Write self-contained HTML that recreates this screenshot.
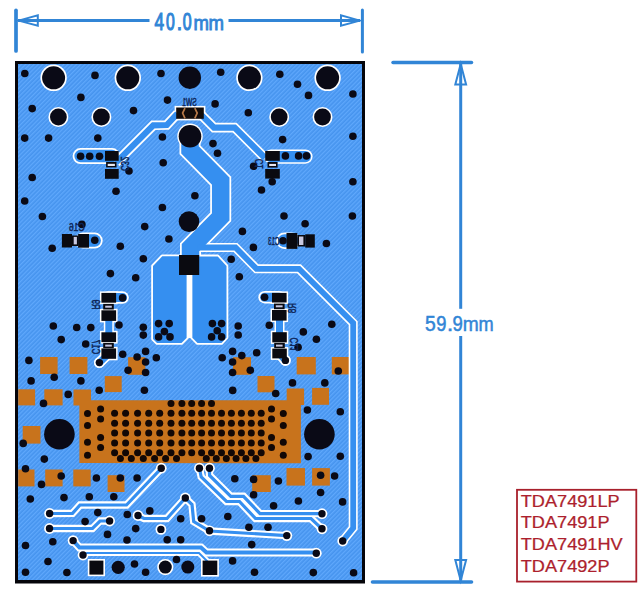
<!DOCTYPE html>
<html><head><meta charset="utf-8"><style>
html,body{margin:0;padding:0;background:#fff;width:640px;height:594px;overflow:hidden;position:relative;font-family:"Liberation Sans",sans-serif}
</style></head><body>
<svg width="640" height="594" viewBox="0 0 640 594" style="position:absolute;left:0;top:0;display:block">
<defs><pattern id="h" patternUnits="userSpaceOnUse" width="3" height="3" patternTransform="rotate(45)"><rect width="3" height="3" fill="#4694ee"/><rect width="1.3" height="3" fill="#5fa8fc"/></pattern></defs>
<g stroke="#3185d6" fill="none" stroke-linecap="round">
<line x1="16" y1="10.3" x2="16" y2="51" stroke-width="3.7"/>
<line x1="362.4" y1="10" x2="362.4" y2="52" stroke-width="3"/>
<line x1="18" y1="20.6" x2="149.5" y2="20.6" stroke-width="3" stroke-linecap="butt"/>
<line x1="228.5" y1="20.6" x2="360" y2="20.6" stroke-width="3" stroke-linecap="butt"/>
<path d="M18.5,20.6 L37.8,15.4 L37.8,25.8 Z" stroke-width="2" stroke-linejoin="miter"/>
<path d="M360,20.6 L341,15.4 L341,25.8 Z" stroke-width="2" stroke-linejoin="miter"/>
<line x1="393" y1="62.5" x2="471.5" y2="62.5" stroke-width="3.5"/>
<line x1="372.5" y1="582" x2="471.5" y2="582" stroke-width="3.6"/>
<line x1="460.7" y1="64" x2="460.7" y2="308.8" stroke-width="3" stroke-linecap="butt"/>
<line x1="460.7" y1="336" x2="460.7" y2="580.5" stroke-width="3" stroke-linecap="butt"/>
<path d="M460.7,64 L455.3,84.5 L466.1,84.5 Z" stroke-width="2"/>
<path d="M460.7,580.5 L455.3,560 L466.1,560 Z" stroke-width="2"/>
</g>
<text x="0" y="0" transform="translate(154.40,30.3) scale(0.732,1.0)" font-family="Liberation Sans" font-size="23.6" fill="#3185d6" stroke="#3185d6" stroke-width="1.09">4</text>
<text x="0" y="0" transform="translate(165.99,30.3) scale(0.665,1.0)" font-family="Liberation Sans" font-size="23.6" fill="#3185d6" stroke="#3185d6" stroke-width="1.20">0</text>
<text x="0" y="0" transform="translate(176.48,30.3) scale(0.890,1.0)" font-family="Liberation Sans" font-size="23.6" fill="#3185d6" stroke="#3185d6" stroke-width="0.90">&#46;</text>
<text x="0" y="0" transform="translate(182.78,30.3) scale(0.674,1.0)" font-family="Liberation Sans" font-size="23.6" fill="#3185d6" stroke="#3185d6" stroke-width="1.19">0</text>
<text x="0" y="0" transform="translate(193.57,30.3) scale(0.786,0.88)" font-family="Liberation Sans" font-size="23.6" fill="#3185d6" stroke="#3185d6" stroke-width="1.02">m</text>
<text x="0" y="0" transform="translate(208.57,30.3) scale(0.786,0.88)" font-family="Liberation Sans" font-size="23.6" fill="#3185d6" stroke="#3185d6" stroke-width="1.02">m</text>
<text x="0" y="0" transform="translate(425.05,331.2) scale(0.854,1.0)" font-family="Liberation Sans" font-size="22.6" fill="#3185d6" stroke="#3185d6" stroke-width="0.53">5</text>
<text x="0" y="0" transform="translate(436.27,331.2) scale(0.809,1.0)" font-family="Liberation Sans" font-size="22.6" fill="#3185d6" stroke="#3185d6" stroke-width="0.56">9</text>
<text x="0" y="0" transform="translate(446.77,331.2) scale(1.046,1.0)" font-family="Liberation Sans" font-size="22.6" fill="#3185d6" stroke="#3185d6" stroke-width="0.43">&#46;</text>
<text x="0" y="0" transform="translate(452.46,331.2) scale(0.819,1.0)" font-family="Liberation Sans" font-size="22.6" fill="#3185d6" stroke="#3185d6" stroke-width="0.55">9</text>
<text x="0" y="0" transform="translate(462.65,331.2) scale(0.849,0.92)" font-family="Liberation Sans" font-size="22.6" fill="#3185d6" stroke="#3185d6" stroke-width="0.53">m</text>
<text x="0" y="0" transform="translate(478.42,331.2) scale(0.805,0.92)" font-family="Liberation Sans" font-size="22.6" fill="#3185d6" stroke="#3185d6" stroke-width="0.56">m</text>
<rect x="517" y="489.8" width="119.3" height="91.8" fill="none" stroke="#a8202c" stroke-width="1.8"/>
<text x="520.8" y="506.70" font-family="Liberation Sans" font-size="15.8" fill="#ad1f2d" stroke="#ad1f2d" stroke-width="0.25" transform="translate(520.8,0) scale(1.148,1) translate(-520.8,0)">TDA7491LP</text>
<text x="520.8" y="528.45" font-family="Liberation Sans" font-size="15.8" fill="#ad1f2d" stroke="#ad1f2d" stroke-width="0.25" transform="translate(520.8,0) scale(1.148,1) translate(-520.8,0)">TDA7491P</text>
<text x="520.8" y="550.20" font-family="Liberation Sans" font-size="15.8" fill="#ad1f2d" stroke="#ad1f2d" stroke-width="0.25" transform="translate(520.8,0) scale(1.148,1) translate(-520.8,0)">TDA7491HV</text>
<text x="520.8" y="571.95" font-family="Liberation Sans" font-size="15.8" fill="#ad1f2d" stroke="#ad1f2d" stroke-width="0.25" transform="translate(520.8,0) scale(1.148,1) translate(-520.8,0)">TDA7492P</text>
<rect x="15" y="61" width="350" height="522.5" fill="#05050a"/>
<rect x="18" y="64" width="344" height="516" fill="url(#h)"/>
<rect x="40.1" y="357" width="17.5" height="17.0" fill="#c8731c"/>
<rect x="69.6" y="357" width="17.8" height="17.0" fill="#c8731c"/>
<rect x="128.1" y="357.2" width="17.2" height="17.6" fill="#c8731c"/>
<rect x="104.8" y="376.1" width="16.9" height="16.0" fill="#c8731c"/>
<rect x="18.2" y="389.3" width="16.9" height="16.1" fill="#c8731c"/>
<rect x="44.3" y="389.3" width="18.3" height="16.1" fill="#c8731c"/>
<rect x="22.7" y="426" width="17.8" height="17.6" fill="#c8731c"/>
<rect x="233" y="357.2" width="18.0" height="17.6" fill="#c8731c"/>
<rect x="296.7" y="357" width="19.1" height="17.4" fill="#c8731c"/>
<rect x="331.8" y="357" width="17.7" height="17.4" fill="#c8731c"/>
<rect x="257.5" y="376" width="17.0" height="16.3" fill="#c8731c"/>
<rect x="312.1" y="387.9" width="16.9" height="16.9" fill="#c8731c"/>
<rect x="18.2" y="469.5" width="16.3" height="16.9" fill="#c8731c"/>
<rect x="45.2" y="469.5" width="17.4" height="16.9" fill="#c8731c"/>
<rect x="73.3" y="469.5" width="17.4" height="16.9" fill="#c8731c"/>
<rect x="107.6" y="475.2" width="16.9" height="16.8" fill="#c8731c"/>
<rect x="252.2" y="475.2" width="18.6" height="16.8" fill="#c8731c"/>
<rect x="286.5" y="468.1" width="18.5" height="17.5" fill="#c8731c"/>
<rect x="312.1" y="468.1" width="17.8" height="17.5" fill="#c8731c"/>
<path d="M73.5,389.5 L91,389.5 L91,400.2 L286.7,400.2 L286.7,388.4 L304.1,388.4 L304.1,405 L300.9,405 L300.9,463.2 L79.4,463.1 L79.4,405.4 L73.5,405.4 Z" fill="#c8731c"/>
<circle cx="114.6" cy="413.2" r="3.5" fill="#120806"/>
<circle cx="114.6" cy="423.2" r="3.5" fill="#120806"/>
<circle cx="114.6" cy="433.0" r="3.5" fill="#120806"/>
<circle cx="114.6" cy="442.9" r="3.5" fill="#120806"/>
<circle cx="114.6" cy="452.7" r="3.5" fill="#120806"/>
<circle cx="125.6" cy="413.2" r="3.5" fill="#120806"/>
<circle cx="125.6" cy="423.2" r="3.5" fill="#120806"/>
<circle cx="125.6" cy="433.0" r="3.5" fill="#120806"/>
<circle cx="125.6" cy="442.9" r="3.5" fill="#120806"/>
<circle cx="125.6" cy="452.7" r="3.5" fill="#120806"/>
<circle cx="137.6" cy="413.2" r="3.5" fill="#120806"/>
<circle cx="137.6" cy="423.2" r="3.5" fill="#120806"/>
<circle cx="137.6" cy="433.0" r="3.5" fill="#120806"/>
<circle cx="137.6" cy="442.9" r="3.5" fill="#120806"/>
<circle cx="137.6" cy="452.7" r="3.5" fill="#120806"/>
<circle cx="148.7" cy="413.2" r="3.5" fill="#120806"/>
<circle cx="148.7" cy="423.2" r="3.5" fill="#120806"/>
<circle cx="148.7" cy="433.0" r="3.5" fill="#120806"/>
<circle cx="148.7" cy="442.9" r="3.5" fill="#120806"/>
<circle cx="148.7" cy="452.7" r="3.5" fill="#120806"/>
<circle cx="159.7" cy="413.2" r="3.5" fill="#120806"/>
<circle cx="159.7" cy="423.2" r="3.5" fill="#120806"/>
<circle cx="159.7" cy="433.0" r="3.5" fill="#120806"/>
<circle cx="159.7" cy="442.9" r="3.5" fill="#120806"/>
<circle cx="159.7" cy="452.7" r="3.5" fill="#120806"/>
<circle cx="171" cy="413.2" r="3.5" fill="#120806"/>
<circle cx="171" cy="423.2" r="3.5" fill="#120806"/>
<circle cx="171" cy="433.0" r="3.5" fill="#120806"/>
<circle cx="171" cy="442.9" r="3.5" fill="#120806"/>
<circle cx="171" cy="452.7" r="3.5" fill="#120806"/>
<circle cx="181.9" cy="413.2" r="3.5" fill="#120806"/>
<circle cx="181.9" cy="423.2" r="3.5" fill="#120806"/>
<circle cx="181.9" cy="433.0" r="3.5" fill="#120806"/>
<circle cx="181.9" cy="442.9" r="3.5" fill="#120806"/>
<circle cx="181.9" cy="452.7" r="3.5" fill="#120806"/>
<circle cx="191.7" cy="413.2" r="3.5" fill="#120806"/>
<circle cx="191.7" cy="423.2" r="3.5" fill="#120806"/>
<circle cx="191.7" cy="433.0" r="3.5" fill="#120806"/>
<circle cx="191.7" cy="442.9" r="3.5" fill="#120806"/>
<circle cx="191.7" cy="452.7" r="3.5" fill="#120806"/>
<circle cx="201.6" cy="413.2" r="3.5" fill="#120806"/>
<circle cx="201.6" cy="423.2" r="3.5" fill="#120806"/>
<circle cx="201.6" cy="433.0" r="3.5" fill="#120806"/>
<circle cx="201.6" cy="442.9" r="3.5" fill="#120806"/>
<circle cx="201.6" cy="452.7" r="3.5" fill="#120806"/>
<circle cx="211.5" cy="413.2" r="3.5" fill="#120806"/>
<circle cx="211.5" cy="423.2" r="3.5" fill="#120806"/>
<circle cx="211.5" cy="433.0" r="3.5" fill="#120806"/>
<circle cx="211.5" cy="442.9" r="3.5" fill="#120806"/>
<circle cx="211.5" cy="452.7" r="3.5" fill="#120806"/>
<circle cx="221.5" cy="413.2" r="3.5" fill="#120806"/>
<circle cx="221.5" cy="423.2" r="3.5" fill="#120806"/>
<circle cx="221.5" cy="433.0" r="3.5" fill="#120806"/>
<circle cx="221.5" cy="442.9" r="3.5" fill="#120806"/>
<circle cx="221.5" cy="452.7" r="3.5" fill="#120806"/>
<circle cx="231.4" cy="413.2" r="3.5" fill="#120806"/>
<circle cx="231.4" cy="423.2" r="3.5" fill="#120806"/>
<circle cx="231.4" cy="433.0" r="3.5" fill="#120806"/>
<circle cx="231.4" cy="442.9" r="3.5" fill="#120806"/>
<circle cx="231.4" cy="452.7" r="3.5" fill="#120806"/>
<circle cx="241.4" cy="413.2" r="3.5" fill="#120806"/>
<circle cx="241.4" cy="423.2" r="3.5" fill="#120806"/>
<circle cx="241.4" cy="433.0" r="3.5" fill="#120806"/>
<circle cx="241.4" cy="442.9" r="3.5" fill="#120806"/>
<circle cx="241.4" cy="452.7" r="3.5" fill="#120806"/>
<circle cx="251.3" cy="413.2" r="3.5" fill="#120806"/>
<circle cx="251.3" cy="423.2" r="3.5" fill="#120806"/>
<circle cx="251.3" cy="433.0" r="3.5" fill="#120806"/>
<circle cx="251.3" cy="442.9" r="3.5" fill="#120806"/>
<circle cx="251.3" cy="452.7" r="3.5" fill="#120806"/>
<circle cx="261.2" cy="413.2" r="3.5" fill="#120806"/>
<circle cx="261.2" cy="423.2" r="3.5" fill="#120806"/>
<circle cx="261.2" cy="433.0" r="3.5" fill="#120806"/>
<circle cx="261.2" cy="442.9" r="3.5" fill="#120806"/>
<circle cx="261.2" cy="452.7" r="3.5" fill="#120806"/>
<circle cx="171" cy="403.4" r="3.5" fill="#120806"/>
<circle cx="181.9" cy="403.4" r="3.5" fill="#120806"/>
<circle cx="191.7" cy="403.4" r="3.5" fill="#120806"/>
<circle cx="201.6" cy="403.4" r="3.5" fill="#120806"/>
<circle cx="211.5" cy="403.4" r="3.5" fill="#120806"/>
<circle cx="120.4" cy="458.4" r="3.5" fill="#120806"/>
<circle cx="131.3" cy="458.4" r="3.5" fill="#120806"/>
<circle cx="143.3" cy="458.4" r="3.5" fill="#120806"/>
<circle cx="154.6" cy="458.4" r="3.5" fill="#120806"/>
<circle cx="165.6" cy="458.4" r="3.5" fill="#120806"/>
<circle cx="176.5" cy="458.4" r="3.5" fill="#120806"/>
<circle cx="206.3" cy="458.4" r="3.5" fill="#120806"/>
<circle cx="216.3" cy="458.4" r="3.5" fill="#120806"/>
<circle cx="226.3" cy="458.4" r="3.5" fill="#120806"/>
<circle cx="236.1" cy="458.4" r="3.5" fill="#120806"/>
<circle cx="245.9" cy="458.4" r="3.5" fill="#120806"/>
<circle cx="255.9" cy="458.4" r="3.5" fill="#120806"/>
<circle cx="87.5" cy="413.5" r="3.5" fill="#120806"/>
<circle cx="283.3" cy="413.5" r="3.5" fill="#120806"/>
<circle cx="87.5" cy="425.4" r="3.5" fill="#120806"/>
<circle cx="283.3" cy="425.4" r="3.5" fill="#120806"/>
<circle cx="87.5" cy="442.2" r="3.5" fill="#120806"/>
<circle cx="283.3" cy="442.2" r="3.5" fill="#120806"/>
<circle cx="87.5" cy="455.3" r="3.5" fill="#120806"/>
<circle cx="283.3" cy="455.3" r="3.5" fill="#120806"/>
<circle cx="100.6" cy="409.1" r="3.5" fill="#120806"/>
<circle cx="271.5" cy="409.1" r="3.5" fill="#120806"/>
<circle cx="100.6" cy="419" r="3.5" fill="#120806"/>
<circle cx="271.5" cy="419" r="3.5" fill="#120806"/>
<circle cx="100.6" cy="437.5" r="3.5" fill="#120806"/>
<circle cx="271.5" cy="437.5" r="3.5" fill="#120806"/>
<circle cx="100.6" cy="447.5" r="3.5" fill="#120806"/>
<circle cx="271.5" cy="447.5" r="3.5" fill="#120806"/>
<path d="M190,136 L190,150 L220.7,181 L220.7,217 L190.5,247.5 L190.5,262" fill="none" stroke="#ffffff" stroke-width="21" stroke-linejoin="miter" stroke-linecap="butt"/>
<path d="M116,162.6 L153.3,125.3 L166.8,125 L177.5,113.5" fill="none" stroke="#ffffff" stroke-width="9.6" stroke-linejoin="miter" stroke-linecap="butt"/>
<path d="M201,114.6 L214,127.6 L234.6,127.6 L265,158" fill="none" stroke="#ffffff" stroke-width="9.6" stroke-linejoin="miter" stroke-linecap="butt"/>
<path d="M80.6,156.1 L112,156.1" fill="none" stroke="#ffffff" stroke-width="16" stroke-linejoin="miter" stroke-linecap="round"/>
<path d="M271,156.6 L305.5,156.6" fill="none" stroke="#ffffff" stroke-width="14.2" stroke-linejoin="miter" stroke-linecap="round"/>
<path d="M83,240.6 L94.7,240.6" fill="none" stroke="#ffffff" stroke-width="16" stroke-linejoin="miter" stroke-linecap="round"/>
<path d="M284.5,240.7 L292,240.7" fill="none" stroke="#ffffff" stroke-width="16.6" stroke-linejoin="miter" stroke-linecap="round"/>
<path d="M108,297.6 L122.6,297.6" fill="none" stroke="#ffffff" stroke-width="12.5" stroke-linejoin="miter" stroke-linecap="round"/>
<path d="M264.6,297.2 L279,297.2" fill="none" stroke="#ffffff" stroke-width="12.5" stroke-linejoin="miter" stroke-linecap="round"/>
<path d="M108.8,318 L108.8,334" fill="none" stroke="#ffffff" stroke-width="10" stroke-linejoin="miter" stroke-linecap="butt"/>
<path d="M279.5,318 L279.5,334" fill="none" stroke="#ffffff" stroke-width="10" stroke-linejoin="miter" stroke-linecap="butt"/>
<path d="M108.5,354 L99.4,362.6" fill="none" stroke="#ffffff" stroke-width="10.5" stroke-linejoin="miter" stroke-linecap="round"/>
<path d="M279.5,354 L285.4,360.4" fill="none" stroke="#ffffff" stroke-width="10.5" stroke-linejoin="miter" stroke-linecap="round"/>
<path d="M153,266 L162.3,256.2 L187,256.2 L187,337.5 L181.5,343 L157,343 L153,339Z" fill="#ffffff" stroke="#ffffff" stroke-width="3.6" stroke-linejoin="round"/>
<path d="M192.1,256.4 L217.7,256.4 L226.5,266 L226.5,337.5 L221.5,343 L197.5,343 L192.1,337.5Z" fill="#ffffff" stroke="#ffffff" stroke-width="3.6" stroke-linejoin="round"/>
<path d="M200,247.5 L235.5,247.5 L256.5,268.8 L299,268.8 L353.2,323 L353.2,528 L342.7,541" fill="none" stroke="#ffffff" stroke-width="9.0" stroke-linejoin="miter" stroke-linecap="round"/>
<path d="M161.25,468.4 L126.5,505 L80,505 L72.5,513.3 L49.6,513.5" fill="none" stroke="#ffffff" stroke-width="7.4" stroke-linejoin="miter" stroke-linecap="round"/>
<path d="M49.5,528.5 L92.5,528.5 L100,521 L109.6,521" fill="none" stroke="#ffffff" stroke-width="7.4" stroke-linejoin="miter" stroke-linecap="round"/>
<path d="M138,515.5 L144,518.5 L167,518.5 L185.3,498 L192,504.5 L193.7,521.5 L209.6,531 L286.8,535.6" fill="none" stroke="#ffffff" stroke-width="7.4" stroke-linejoin="miter" stroke-linecap="round"/>
<path d="M73.1,540.6 L79.5,547.6 L201,547.6 L206.5,552.6 L316.3,552.6" fill="none" stroke="#ffffff" stroke-width="8" stroke-linejoin="miter" stroke-linecap="round"/>
<path d="M83,555 L87,553 L199,553 L209,563" fill="none" stroke="#ffffff" stroke-width="6" stroke-linejoin="miter" stroke-linecap="butt"/>
<path d="M199.4,468.3 L201.2,477 L226.5,501.5 L239.5,501.5 L255.5,518.5 L311,518.5 L321.9,528.9" fill="none" stroke="#ffffff" stroke-width="7.4" stroke-linejoin="miter" stroke-linecap="round"/>
<path d="M209.3,468.3 L209.6,475.5 L230.8,496.3 L243.5,496.3 L260,513.6 L321.9,513.6" fill="none" stroke="#ffffff" stroke-width="7.4" stroke-linejoin="miter" stroke-linecap="round"/>
<circle cx="53.6" cy="77.8" r="13.2" fill="#ffffff"/>
<circle cx="127.8" cy="77.8" r="13.2" fill="#ffffff"/>
<circle cx="249.4" cy="77.8" r="13.2" fill="#ffffff"/>
<circle cx="327.6" cy="77.8" r="13.2" fill="#ffffff"/>
<circle cx="58.4" cy="117" r="10.0" fill="#ffffff"/>
<circle cx="101.4" cy="117" r="10.0" fill="#ffffff"/>
<circle cx="279.2" cy="117" r="10.0" fill="#ffffff"/>
<circle cx="322.5" cy="117" r="10.0" fill="#ffffff"/>
<circle cx="190" cy="136.3" r="12.700000000000001" fill="#ffffff"/>
<circle cx="165.3" cy="567.1" r="8.1" fill="#ffffff"/>
<circle cx="161.25" cy="468.2" r="5.4" fill="#ffffff"/>
<circle cx="199.4" cy="468.2" r="5.4" fill="#ffffff"/>
<circle cx="209.5" cy="468.2" r="5.4" fill="#ffffff"/>
<circle cx="49.6" cy="513.5" r="5.4" fill="#ffffff"/>
<circle cx="49.5" cy="528.5" r="5.4" fill="#ffffff"/>
<circle cx="109.6" cy="521" r="5.4" fill="#ffffff"/>
<circle cx="138" cy="515.5" r="5.4" fill="#ffffff"/>
<circle cx="185.3" cy="498" r="5.4" fill="#ffffff"/>
<circle cx="160.9" cy="529.4" r="5.4" fill="#ffffff"/>
<circle cx="73.1" cy="540.6" r="5.4" fill="#ffffff"/>
<circle cx="83" cy="555" r="5.4" fill="#ffffff"/>
<circle cx="209.5" cy="530.8" r="5.4" fill="#ffffff"/>
<circle cx="286.8" cy="535.6" r="5.4" fill="#ffffff"/>
<circle cx="342.7" cy="541" r="5.4" fill="#ffffff"/>
<circle cx="316.3" cy="553.2" r="5.4" fill="#ffffff"/>
<circle cx="322" cy="513.7" r="5.4" fill="#ffffff"/>
<circle cx="322" cy="528.8" r="5.4" fill="#ffffff"/>
<circle cx="99.4" cy="362.6" r="5.4" fill="#ffffff"/>
<circle cx="285.4" cy="360.4" r="5.4" fill="#ffffff"/>
<rect x="174.60" y="105.90" width="30.80" height="14.50" fill="#ffffff"/>
<rect x="99.90" y="291.40" width="17.70" height="12.80" fill="#ffffff"/>
<rect x="99.90" y="308.80" width="17.70" height="13.60" fill="#ffffff"/>
<rect x="99.90" y="330.80" width="17.70" height="12.80" fill="#ffffff"/>
<rect x="99.90" y="346.90" width="17.70" height="13.40" fill="#ffffff"/>
<rect x="270.50" y="291.40" width="17.60" height="12.60" fill="#ffffff"/>
<rect x="270.50" y="308.50" width="17.60" height="13.60" fill="#ffffff"/>
<rect x="270.80" y="330.70" width="17.50" height="13.20" fill="#ffffff"/>
<rect x="270.80" y="347.10" width="17.50" height="12.80" fill="#ffffff"/>
<rect x="87.80" y="559.00" width="17.20" height="17.20" fill="#ffffff"/>
<rect x="201.00" y="559.00" width="17.90" height="17.60" fill="#ffffff"/>
<path d="M190,136 L190,150 L220.7,181 L220.7,217 L190.5,247.5 L190.5,262" fill="none" stroke="#358ff0" stroke-width="17.5" stroke-linejoin="miter" stroke-linecap="butt"/>
<path d="M116,162.6 L153.3,125.3 L166.8,125 L177.5,113.5" fill="none" stroke="#358ff0" stroke-width="6.2" stroke-linejoin="miter" stroke-linecap="butt"/>
<path d="M201,114.6 L214,127.6 L234.6,127.6 L265,158" fill="none" stroke="#358ff0" stroke-width="6.2" stroke-linejoin="miter" stroke-linecap="butt"/>
<path d="M80.6,156.1 L112,156.1" fill="none" stroke="#358ff0" stroke-width="12.5" stroke-linejoin="miter" stroke-linecap="round"/>
<path d="M271,156.6 L305.5,156.6" fill="none" stroke="#358ff0" stroke-width="11.2" stroke-linejoin="miter" stroke-linecap="round"/>
<path d="M83,240.6 L94.7,240.6" fill="none" stroke="#358ff0" stroke-width="12.5" stroke-linejoin="miter" stroke-linecap="round"/>
<path d="M284.5,240.7 L292,240.7" fill="none" stroke="#358ff0" stroke-width="13" stroke-linejoin="miter" stroke-linecap="round"/>
<path d="M108,297.6 L122.6,297.6" fill="none" stroke="#358ff0" stroke-width="9" stroke-linejoin="miter" stroke-linecap="round"/>
<path d="M264.6,297.2 L279,297.2" fill="none" stroke="#358ff0" stroke-width="9" stroke-linejoin="miter" stroke-linecap="round"/>
<path d="M108.8,318 L108.8,334" fill="none" stroke="#358ff0" stroke-width="7" stroke-linejoin="miter" stroke-linecap="butt"/>
<path d="M279.5,318 L279.5,334" fill="none" stroke="#358ff0" stroke-width="7" stroke-linejoin="miter" stroke-linecap="butt"/>
<path d="M108.5,354 L99.4,362.6" fill="none" stroke="#358ff0" stroke-width="7" stroke-linejoin="miter" stroke-linecap="round"/>
<path d="M279.5,354 L285.4,360.4" fill="none" stroke="#358ff0" stroke-width="7" stroke-linejoin="miter" stroke-linecap="round"/>
<path d="M153,266 L162.3,256.2 L187,256.2 L187,337.5 L181.5,343 L157,343 L153,339Z" fill="#358ff0"/>
<path d="M192.1,256.4 L217.7,256.4 L226.5,266 L226.5,337.5 L221.5,343 L197.5,343 L192.1,337.5Z" fill="#358ff0"/>
<rect x="186.6" y="275" width="5.7" height="63" fill="#ffffff"/>
<path d="M200,247.5 L235.5,247.5 L256.5,268.8 L299,268.8 L353.2,323 L353.2,528 L342.7,541" fill="none" stroke="#358ff0" stroke-width="5.8" stroke-linejoin="miter" stroke-linecap="round"/>
<path d="M161.25,468.4 L126.5,505 L80,505 L72.5,513.3 L49.6,513.5" fill="none" stroke="#358ff0" stroke-width="3.2" stroke-linejoin="miter" stroke-linecap="round"/>
<path d="M49.5,528.5 L92.5,528.5 L100,521 L109.6,521" fill="none" stroke="#358ff0" stroke-width="3.2" stroke-linejoin="miter" stroke-linecap="round"/>
<path d="M138,515.5 L144,518.5 L167,518.5 L185.3,498 L192,504.5 L193.7,521.5 L209.6,531 L286.8,535.6" fill="none" stroke="#358ff0" stroke-width="3.2" stroke-linejoin="miter" stroke-linecap="round"/>
<path d="M73.1,540.6 L79.5,547.6 L201,547.6 L206.5,552.6 L316.3,552.6" fill="none" stroke="#358ff0" stroke-width="4" stroke-linejoin="miter" stroke-linecap="round"/>
<path d="M83,555 L87,553 L199,553 L209,563" fill="none" stroke="#358ff0" stroke-width="1.9" stroke-linejoin="miter" stroke-linecap="butt"/>
<path d="M199.4,468.3 L201.2,477 L226.5,501.5 L239.5,501.5 L255.5,518.5 L311,518.5 L321.9,528.9" fill="none" stroke="#358ff0" stroke-width="3.2" stroke-linejoin="miter" stroke-linecap="round"/>
<path d="M209.3,468.3 L209.6,475.5 L230.8,496.3 L243.5,496.3 L260,513.6 L321.9,513.6" fill="none" stroke="#358ff0" stroke-width="3.2" stroke-linejoin="miter" stroke-linecap="round"/>
<circle cx="53.6" cy="77.8" r="11.5" fill="#0a0a16"/>
<circle cx="127.8" cy="77.8" r="11.5" fill="#0a0a16"/>
<circle cx="249.4" cy="77.8" r="11.5" fill="#0a0a16"/>
<circle cx="327.6" cy="77.8" r="11.5" fill="#0a0a16"/>
<circle cx="189.8" cy="77.7" r="11.2" fill="#0a0a16"/>
<circle cx="58.4" cy="117" r="8.4" fill="#0a0a16"/>
<circle cx="101.4" cy="117" r="8.4" fill="#0a0a16"/>
<circle cx="279.2" cy="117" r="8.4" fill="#0a0a16"/>
<circle cx="322.5" cy="117" r="8.4" fill="#0a0a16"/>
<circle cx="190" cy="136.3" r="11.3" fill="#0a0a16"/>
<circle cx="189" cy="221.6" r="10.3" fill="#0a0a16"/>
<circle cx="59.4" cy="434.2" r="15.3" fill="#0a0a16"/>
<circle cx="319.4" cy="434.2" r="15.3" fill="#0a0a16"/>
<circle cx="118.2" cy="567.3" r="6.6" fill="#0a0a16"/>
<circle cx="165.3" cy="567.1" r="6.5" fill="#0a0a16"/>
<circle cx="187.8" cy="567.1" r="6.5" fill="#0a0a16"/>
<circle cx="24.8" cy="73.5" r="3.8" fill="#0a0a16"/>
<circle cx="95.0" cy="75.4" r="3.8" fill="#0a0a16"/>
<circle cx="161.0" cy="73.5" r="3.8" fill="#0a0a16"/>
<circle cx="220.7" cy="72.2" r="3.8" fill="#0a0a16"/>
<circle cx="279.8" cy="74.3" r="3.8" fill="#0a0a16"/>
<circle cx="297.5" cy="84.2" r="3.8" fill="#0a0a16"/>
<circle cx="308.5" cy="95.4" r="3.8" fill="#0a0a16"/>
<circle cx="352.9" cy="94.0" r="3.8" fill="#0a0a16"/>
<circle cx="80.9" cy="97.4" r="3.8" fill="#0a0a16"/>
<circle cx="32.2" cy="108.6" r="3.8" fill="#0a0a16"/>
<circle cx="133.5" cy="110.6" r="3.8" fill="#0a0a16"/>
<circle cx="167.5" cy="100.1" r="3.8" fill="#0a0a16"/>
<circle cx="215.1" cy="103.9" r="3.8" fill="#0a0a16"/>
<circle cx="248.3" cy="112.8" r="3.8" fill="#0a0a16"/>
<circle cx="24.7" cy="138.1" r="3.8" fill="#0a0a16"/>
<circle cx="48.6" cy="138.1" r="3.8" fill="#0a0a16"/>
<circle cx="97.8" cy="138.1" r="3.8" fill="#0a0a16"/>
<circle cx="162.4" cy="137.0" r="3.8" fill="#0a0a16"/>
<circle cx="213.0" cy="143.6" r="3.8" fill="#0a0a16"/>
<circle cx="217.5" cy="153.2" r="3.8" fill="#0a0a16"/>
<circle cx="282.6" cy="139.6" r="3.8" fill="#0a0a16"/>
<circle cx="352.9" cy="136.2" r="3.8" fill="#0a0a16"/>
<circle cx="129.0" cy="171.0" r="3.8" fill="#0a0a16"/>
<circle cx="163.2" cy="162.8" r="3.8" fill="#0a0a16"/>
<circle cx="32.2" cy="177.5" r="3.8" fill="#0a0a16"/>
<circle cx="253.6" cy="166.3" r="3.8" fill="#0a0a16"/>
<circle cx="272.2" cy="181.7" r="3.8" fill="#0a0a16"/>
<circle cx="352.9" cy="181.7" r="3.8" fill="#0a0a16"/>
<circle cx="116.0" cy="191.2" r="3.8" fill="#0a0a16"/>
<circle cx="24.7" cy="201.0" r="3.8" fill="#0a0a16"/>
<circle cx="162.4" cy="207.5" r="3.8" fill="#0a0a16"/>
<circle cx="42.4" cy="216.5" r="3.8" fill="#0a0a16"/>
<circle cx="81.9" cy="224.4" r="3.8" fill="#0a0a16"/>
<circle cx="144.7" cy="226.6" r="3.8" fill="#0a0a16"/>
<circle cx="168.9" cy="239.0" r="3.8" fill="#0a0a16"/>
<circle cx="52.2" cy="248.3" r="3.8" fill="#0a0a16"/>
<circle cx="120.3" cy="246.2" r="3.8" fill="#0a0a16"/>
<circle cx="143.3" cy="258.7" r="3.8" fill="#0a0a16"/>
<circle cx="110.4" cy="273.6" r="3.8" fill="#0a0a16"/>
<circle cx="135.7" cy="277.8" r="3.8" fill="#0a0a16"/>
<circle cx="194.9" cy="195.7" r="3.8" fill="#0a0a16"/>
<circle cx="261.5" cy="190.0" r="3.8" fill="#0a0a16"/>
<circle cx="284.0" cy="216.0" r="3.8" fill="#0a0a16"/>
<circle cx="352.4" cy="216.0" r="3.8" fill="#0a0a16"/>
<circle cx="305.1" cy="223.8" r="3.8" fill="#0a0a16"/>
<circle cx="242.4" cy="231.4" r="3.8" fill="#0a0a16"/>
<circle cx="253.4" cy="247.4" r="3.8" fill="#0a0a16"/>
<circle cx="326.4" cy="243.5" r="3.8" fill="#0a0a16"/>
<circle cx="231.2" cy="259.2" r="3.8" fill="#0a0a16"/>
<circle cx="239.3" cy="276.7" r="3.8" fill="#0a0a16"/>
<circle cx="53.3" cy="326.0" r="3.8" fill="#0a0a16"/>
<circle cx="76.7" cy="327.5" r="3.8" fill="#0a0a16"/>
<circle cx="90.8" cy="327.6" r="3.8" fill="#0a0a16"/>
<circle cx="119.0" cy="325.0" r="3.8" fill="#0a0a16"/>
<circle cx="61.2" cy="339.6" r="3.8" fill="#0a0a16"/>
<circle cx="85.7" cy="344.0" r="3.8" fill="#0a0a16"/>
<circle cx="122.7" cy="354.2" r="3.8" fill="#0a0a16"/>
<circle cx="143.3" cy="327.2" r="3.8" fill="#0a0a16"/>
<circle cx="143.3" cy="335.1" r="3.8" fill="#0a0a16"/>
<circle cx="145.6" cy="351.4" r="3.8" fill="#0a0a16"/>
<circle cx="156.3" cy="357.8" r="3.8" fill="#0a0a16"/>
<circle cx="28.9" cy="360.4" r="3.8" fill="#0a0a16"/>
<circle cx="137.1" cy="357.0" r="3.8" fill="#0a0a16"/>
<circle cx="145.6" cy="362.0" r="3.8" fill="#0a0a16"/>
<circle cx="128.1" cy="370.2" r="3.8" fill="#0a0a16"/>
<circle cx="145.6" cy="372.5" r="3.8" fill="#0a0a16"/>
<circle cx="31.1" cy="380.9" r="3.8" fill="#0a0a16"/>
<circle cx="54.2" cy="377.2" r="3.8" fill="#0a0a16"/>
<circle cx="80.9" cy="380.9" r="3.8" fill="#0a0a16"/>
<circle cx="99.2" cy="390.2" r="3.8" fill="#0a0a16"/>
<circle cx="144.4" cy="390.3" r="3.8" fill="#0a0a16"/>
<circle cx="68.2" cy="394.4" r="3.8" fill="#0a0a16"/>
<circle cx="43.5" cy="403.4" r="3.8" fill="#0a0a16"/>
<circle cx="238.2" cy="326.0" r="3.8" fill="#0a0a16"/>
<circle cx="238.2" cy="335.0" r="3.8" fill="#0a0a16"/>
<circle cx="269.3" cy="325.3" r="3.8" fill="#0a0a16"/>
<circle cx="303.3" cy="331.9" r="3.8" fill="#0a0a16"/>
<circle cx="316.4" cy="339.3" r="3.8" fill="#0a0a16"/>
<circle cx="298.1" cy="347.2" r="3.8" fill="#0a0a16"/>
<circle cx="331.8" cy="324.2" r="3.8" fill="#0a0a16"/>
<circle cx="232.6" cy="351.4" r="3.8" fill="#0a0a16"/>
<circle cx="222.2" cy="357.8" r="3.8" fill="#0a0a16"/>
<circle cx="241.8" cy="355.6" r="3.8" fill="#0a0a16"/>
<circle cx="256.7" cy="352.8" r="3.8" fill="#0a0a16"/>
<circle cx="232.6" cy="362.0" r="3.8" fill="#0a0a16"/>
<circle cx="250.3" cy="370.2" r="3.8" fill="#0a0a16"/>
<circle cx="232.6" cy="372.5" r="3.8" fill="#0a0a16"/>
<circle cx="338.3" cy="371.0" r="3.8" fill="#0a0a16"/>
<circle cx="232.7" cy="390.4" r="3.8" fill="#0a0a16"/>
<circle cx="275.7" cy="393.5" r="3.8" fill="#0a0a16"/>
<circle cx="292.5" cy="382.9" r="3.8" fill="#0a0a16"/>
<circle cx="324.8" cy="382.9" r="3.8" fill="#0a0a16"/>
<circle cx="307.4" cy="410.0" r="3.8" fill="#0a0a16"/>
<circle cx="340.3" cy="411.8" r="3.8" fill="#0a0a16"/>
<circle cx="308.1" cy="456.6" r="3.8" fill="#0a0a16"/>
<circle cx="23.2" cy="443.4" r="3.8" fill="#0a0a16"/>
<circle cx="44.3" cy="459.1" r="3.8" fill="#0a0a16"/>
<circle cx="25.5" cy="468.7" r="3.8" fill="#0a0a16"/>
<circle cx="61.2" cy="476.0" r="3.8" fill="#0a0a16"/>
<circle cx="41.5" cy="484.4" r="3.8" fill="#0a0a16"/>
<circle cx="96.4" cy="478.0" r="3.8" fill="#0a0a16"/>
<circle cx="120.3" cy="478.0" r="3.8" fill="#0a0a16"/>
<circle cx="137.1" cy="478.0" r="3.8" fill="#0a0a16"/>
<circle cx="30.3" cy="499.0" r="3.8" fill="#0a0a16"/>
<circle cx="64.0" cy="497.6" r="3.8" fill="#0a0a16"/>
<circle cx="89.3" cy="496.8" r="3.8" fill="#0a0a16"/>
<circle cx="113.8" cy="496.8" r="3.8" fill="#0a0a16"/>
<circle cx="97.8" cy="512.6" r="3.8" fill="#0a0a16"/>
<circle cx="127.3" cy="514.5" r="3.8" fill="#0a0a16"/>
<circle cx="149.8" cy="510.9" r="3.8" fill="#0a0a16"/>
<circle cx="180.7" cy="518.7" r="3.8" fill="#0a0a16"/>
<circle cx="85.1" cy="521.6" r="3.8" fill="#0a0a16"/>
<circle cx="135.7" cy="528.6" r="3.8" fill="#0a0a16"/>
<circle cx="107.5" cy="534.4" r="3.8" fill="#0a0a16"/>
<circle cx="52.8" cy="541.8" r="3.8" fill="#0a0a16"/>
<circle cx="127.0" cy="540.0" r="3.8" fill="#0a0a16"/>
<circle cx="167.2" cy="539.8" r="3.8" fill="#0a0a16"/>
<circle cx="180.7" cy="539.8" r="3.8" fill="#0a0a16"/>
<circle cx="25.5" cy="545.5" r="3.8" fill="#0a0a16"/>
<circle cx="48.0" cy="561.5" r="3.8" fill="#0a0a16"/>
<circle cx="134.5" cy="564.0" r="3.8" fill="#0a0a16"/>
<circle cx="176.5" cy="559.5" r="3.8" fill="#0a0a16"/>
<circle cx="25.5" cy="572.2" r="3.8" fill="#0a0a16"/>
<circle cx="66.9" cy="572.5" r="3.8" fill="#0a0a16"/>
<circle cx="145.6" cy="572.2" r="3.8" fill="#0a0a16"/>
<circle cx="340.3" cy="456.3" r="3.8" fill="#0a0a16"/>
<circle cx="320.6" cy="475.2" r="3.8" fill="#0a0a16"/>
<circle cx="334.6" cy="476.0" r="3.8" fill="#0a0a16"/>
<circle cx="234.8" cy="478.8" r="3.8" fill="#0a0a16"/>
<circle cx="253.6" cy="479.4" r="3.8" fill="#0a0a16"/>
<circle cx="278.4" cy="481.0" r="3.8" fill="#0a0a16"/>
<circle cx="253.6" cy="494.8" r="3.8" fill="#0a0a16"/>
<circle cx="320.6" cy="492.5" r="3.8" fill="#0a0a16"/>
<circle cx="298.4" cy="501.0" r="3.8" fill="#0a0a16"/>
<circle cx="273.6" cy="505.8" r="3.8" fill="#0a0a16"/>
<circle cx="342.6" cy="501.9" r="3.8" fill="#0a0a16"/>
<circle cx="227.8" cy="516.5" r="3.8" fill="#0a0a16"/>
<circle cx="201.6" cy="518.7" r="3.8" fill="#0a0a16"/>
<circle cx="248.9" cy="527.2" r="3.8" fill="#0a0a16"/>
<circle cx="268.0" cy="527.2" r="3.8" fill="#0a0a16"/>
<circle cx="251.7" cy="544.6" r="3.8" fill="#0a0a16"/>
<circle cx="232.6" cy="560.9" r="3.8" fill="#0a0a16"/>
<circle cx="254.5" cy="572.2" r="3.8" fill="#0a0a16"/>
<circle cx="313.3" cy="572.6" r="3.8" fill="#0a0a16"/>
<circle cx="353.6" cy="572.7" r="3.8" fill="#0a0a16"/>
<circle cx="158.6" cy="323.6" r="3.8" fill="#0a0a16"/>
<circle cx="169.2" cy="323.6" r="3.8" fill="#0a0a16"/>
<circle cx="164.4" cy="331.6" r="3.8" fill="#0a0a16"/>
<circle cx="158.6" cy="336.9" r="3.8" fill="#0a0a16"/>
<circle cx="170.0" cy="336.9" r="3.8" fill="#0a0a16"/>
<circle cx="212.4" cy="323.6" r="3.8" fill="#0a0a16"/>
<circle cx="221.6" cy="323.6" r="3.8" fill="#0a0a16"/>
<circle cx="217.2" cy="330.7" r="3.8" fill="#0a0a16"/>
<circle cx="211.6" cy="336.9" r="3.8" fill="#0a0a16"/>
<circle cx="221.6" cy="336.9" r="3.8" fill="#0a0a16"/>
<circle cx="80.6" cy="156.2" r="3.8" fill="#0a0a16"/>
<circle cx="89.7" cy="156.2" r="3.8" fill="#0a0a16"/>
<circle cx="99.5" cy="156.2" r="3.8" fill="#0a0a16"/>
<circle cx="285.4" cy="155.9" r="3.8" fill="#0a0a16"/>
<circle cx="298.6" cy="155.9" r="3.8" fill="#0a0a16"/>
<circle cx="306.5" cy="155.9" r="3.8" fill="#0a0a16"/>
<circle cx="94.75" cy="240.3" r="3.8" fill="#0a0a16"/>
<circle cx="283.0" cy="240.7" r="3.8" fill="#0a0a16"/>
<circle cx="122.6" cy="297.9" r="3.8" fill="#0a0a16"/>
<circle cx="264.6" cy="297.2" r="3.8" fill="#0a0a16"/>
<circle cx="161.25" cy="468.2" r="3.7" fill="#0a0a16"/>
<circle cx="199.4" cy="468.2" r="3.7" fill="#0a0a16"/>
<circle cx="209.5" cy="468.2" r="3.7" fill="#0a0a16"/>
<circle cx="49.6" cy="513.5" r="3.7" fill="#0a0a16"/>
<circle cx="49.5" cy="528.5" r="3.7" fill="#0a0a16"/>
<circle cx="109.6" cy="521" r="3.7" fill="#0a0a16"/>
<circle cx="138" cy="515.5" r="3.7" fill="#0a0a16"/>
<circle cx="185.3" cy="498" r="3.7" fill="#0a0a16"/>
<circle cx="160.9" cy="529.4" r="3.7" fill="#0a0a16"/>
<circle cx="73.1" cy="540.6" r="3.7" fill="#0a0a16"/>
<circle cx="83" cy="555" r="3.7" fill="#0a0a16"/>
<circle cx="209.5" cy="530.8" r="3.7" fill="#0a0a16"/>
<circle cx="286.8" cy="535.6" r="3.7" fill="#0a0a16"/>
<circle cx="342.7" cy="541" r="3.7" fill="#0a0a16"/>
<circle cx="316.3" cy="553.2" r="3.7" fill="#0a0a16"/>
<circle cx="322" cy="513.7" r="3.7" fill="#0a0a16"/>
<circle cx="322" cy="528.8" r="3.7" fill="#0a0a16"/>
<circle cx="99.4" cy="362.6" r="3.7" fill="#0a0a16"/>
<circle cx="285.4" cy="360.4" r="3.7" fill="#0a0a16"/>
<rect x="176.20" y="107.50" width="27.60" height="11.30" fill="#120c0a"/>
<path d="M185,108.2 L182.6,113.1 L185,118.4 M194.8,108.2 L197.2,113.1 L194.8,118.4" stroke="#b87a48" stroke-width="1.7" fill="none"/>
<rect x="105.00" y="151.00" width="13.70" height="9.80" fill="#0a0a10"/>
<rect x="106.10" y="161.90" width="10.40" height="5.50" fill="#0a0a10"/>
<rect x="107.70" y="163.80" width="7.20" height="2.20" fill="#e8e8f0"/>
<rect x="105.00" y="169.00" width="13.70" height="9.80" fill="#0a0a10"/>
<rect x="265.20" y="151.00" width="14.60" height="9.80" fill="#0a0a10"/>
<rect x="267.50" y="162.00" width="10.10" height="5.60" fill="#0a0a10"/>
<rect x="269.20" y="163.90" width="6.80" height="2.10" fill="#e8e8f0"/>
<rect x="265.20" y="169.00" width="14.60" height="9.60" fill="#0a0a10"/>
<rect x="179.00" y="255.00" width="20.20" height="20.00" fill="#0a0a10"/>
<rect x="61.90" y="234.00" width="10.10" height="13.50" fill="#0a0a10"/>
<rect x="72.00" y="235.50" width="6.20" height="10.50" fill="#0a0a10"/>
<rect x="73.70" y="236.90" width="3.20" height="7.50" fill="#c8c8e0"/>
<rect x="78.10" y="234.00" width="10.90" height="13.70" fill="#0a0a10"/>
<rect x="286.50" y="233.00" width="10.80" height="15.90" fill="#0a0a10"/>
<rect x="297.30" y="235.00" width="7.90" height="11.50" fill="#0a0a10"/>
<rect x="299.00" y="236.50" width="4.40" height="8.50" fill="#c8c8e0"/>
<rect x="305.20" y="234.30" width="9.60" height="13.30" fill="#0a0a10"/>
<rect x="101.40" y="292.90" width="14.70" height="9.80" fill="#0a0a10"/>
<rect x="103.20" y="303.90" width="10.60" height="5.60" fill="#0a0a10"/>
<rect x="105.20" y="305.70" width="6.60" height="2.00" fill="#c8c8e0"/>
<rect x="101.40" y="310.30" width="14.70" height="10.60" fill="#0a0a10"/>
<rect x="101.40" y="332.30" width="14.70" height="9.80" fill="#0a0a10"/>
<rect x="103.20" y="342.90" width="10.60" height="5.30" fill="#0a0a10"/>
<rect x="105.20" y="344.60" width="6.60" height="2.00" fill="#c8c8e0"/>
<rect x="101.40" y="348.40" width="14.70" height="10.40" fill="#0a0a10"/>
<rect x="272.00" y="292.90" width="14.60" height="9.60" fill="#0a0a10"/>
<rect x="274.00" y="303.60" width="10.60" height="5.60" fill="#0a0a10"/>
<rect x="275.80" y="305.30" width="6.80" height="2.00" fill="#c8c8e0"/>
<rect x="272.00" y="310.00" width="14.60" height="10.60" fill="#0a0a10"/>
<rect x="272.30" y="332.20" width="14.50" height="10.20" fill="#0a0a10"/>
<rect x="274.20" y="342.90" width="10.60" height="5.30" fill="#0a0a10"/>
<rect x="276.00" y="344.60" width="6.60" height="2.00" fill="#c8c8e0"/>
<rect x="272.30" y="348.60" width="14.50" height="9.80" fill="#0a0a10"/>
<rect x="89.40" y="560.60" width="14.00" height="14.00" fill="#0a0a10"/>
<rect x="202.60" y="560.60" width="14.70" height="14.40" fill="#0a0a10"/>
<text x="0" y="3.78" transform="translate(189.6,101.9) rotate(0) scale(-0.6,1)" font-family="Liberation Sans" font-size="11" fill="#0d2558" stroke="#0d2558" stroke-width="0.5" text-anchor="middle">SW1</text>
<text x="0" y="3.72" transform="translate(76.9,227.3) rotate(0) scale(-0.8,1)" font-family="Liberation Sans" font-size="10.8" fill="#0d2558" stroke="#0d2558" stroke-width="0.5" text-anchor="middle">C16</text>
<text x="0" y="3.44" transform="translate(273.8,241.6) rotate(0) scale(-0.62,1)" font-family="Liberation Sans" font-size="10" fill="#0d2558" stroke="#0d2558" stroke-width="0.5" text-anchor="middle">C13</text>
<text x="0" y="3.61" transform="translate(124.6,163.9) rotate(90) scale(-0.75,1)" font-family="Liberation Sans" font-size="10.5" fill="#0d2558" stroke="#0d2558" stroke-width="0.5" text-anchor="middle">C32</text>
<text x="0" y="3.61" transform="translate(259,163.7) rotate(-90) scale(-0.75,1)" font-family="Liberation Sans" font-size="10.5" fill="#0d2558" stroke="#0d2558" stroke-width="0.5" text-anchor="middle">C1</text>
<text x="0" y="3.61" transform="translate(95.2,304.6) rotate(90) scale(-0.75,1)" font-family="Liberation Sans" font-size="10.5" fill="#0d2558" stroke="#0d2558" stroke-width="0.5" text-anchor="middle">R9</text>
<text x="0" y="3.61" transform="translate(95.6,347) rotate(90) scale(-0.75,1)" font-family="Liberation Sans" font-size="10.5" fill="#0d2558" stroke="#0d2558" stroke-width="0.5" text-anchor="middle">C17</text>
<text x="0" y="3.61" transform="translate(292.6,308) rotate(-90) scale(-0.75,1)" font-family="Liberation Sans" font-size="10.5" fill="#0d2558" stroke="#0d2558" stroke-width="0.5" text-anchor="middle">R8</text>
<text x="0" y="3.61" transform="translate(294,344.5) rotate(-90) scale(-0.75,1)" font-family="Liberation Sans" font-size="10.5" fill="#0d2558" stroke="#0d2558" stroke-width="0.5" text-anchor="middle">C11</text>
</svg>
</body></html>
